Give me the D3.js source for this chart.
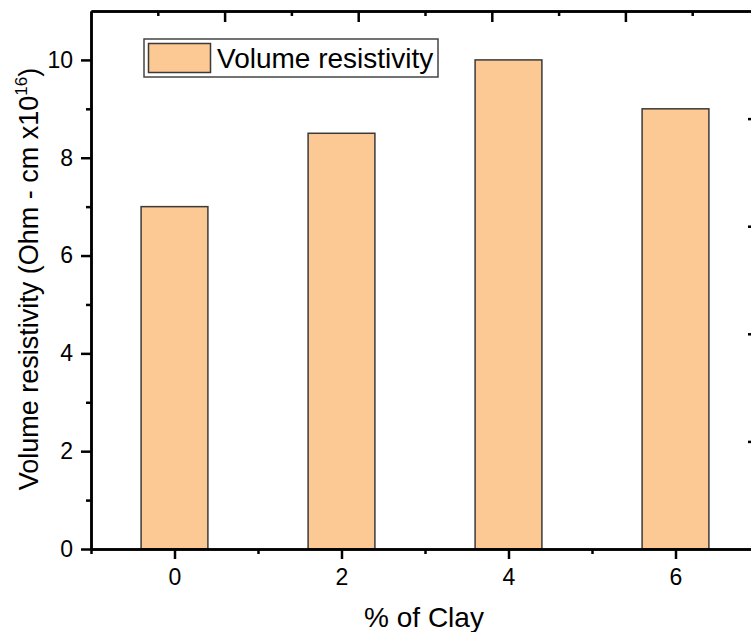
<!DOCTYPE html>
<html><head><meta charset="utf-8">
<script src="https://cdn.jsdelivr.net/npm/d3@7"></script>
<style>body{margin:0;background:#fff}svg{display:block}text{font-family:"Liberation Sans",Arial,sans-serif;fill:#000}</style>
</head><body>
<script>
const categories = [0, 2, 4, 6];
const values = [7, 8.5, 10, 9];
const seriesName = "Volume resistivity";
const yTicks = [0, 2, 4, 6, 8, 10];
const xTitle = "% of Clay";

const W = 751, H = 632;
const L = 91, R = 759, T = 11, B = 549;
const svg = d3.select("body").append("svg").attr("width", W).attr("height", H);

const x = d3.scaleLinear().domain([-1, 7]).range([L, R]);
const y = d3.scaleLinear().domain([0, 11]).range([B, T]);
const xTop = d3.scaleLinear().domain([0, 5]).range([L, R]);
const yRight = d3.scaleLinear().domain([0, 5]).range([B, T]);

// bars
svg.selectAll("rect.bar").data(categories).enter().append("rect")
  .attr("class", "bar")
  .attr("x", d => x(d - 0.4))
  .attr("width", x(0.8) - x(0))
  .attr("y", (d, i) => y(values[i]))
  .attr("height", (d, i) => y(0) - y(values[i]))
  .attr("fill", "#FCC894").attr("stroke", "#3a3a3a").attr("stroke-width", 1.5);

function styleAxis(g) {
  g.selectAll("path").attr("stroke", "#000").attr("stroke-width", 2.5);
  g.selectAll("line").attr("stroke", "#000").attr("stroke-width", 2.5);
  g.selectAll("text").style("font-size", "23px").style("font-family", '"Liberation Sans",Arial,sans-serif');
}

// bottom axis: minor ticks
const gxm = svg.append("g").attr("transform", `translate(0,${B})`)
  .call(d3.axisBottom(x).tickValues([-1, 1, 3, 5]).tickSize(5).tickFormat("").tickSizeOuter(0));
styleAxis(gxm);
const gx = svg.append("g").attr("transform", `translate(0,${B})`)
  .call(d3.axisBottom(x).tickValues(categories).tickSize(10).tickPadding(10).tickSizeOuter(0));
styleAxis(gx);

// left axis
const gym = svg.append("g").attr("transform", `translate(${L},0)`)
  .call(d3.axisLeft(y).tickValues([1, 3, 5, 7, 9]).tickSize(5).tickFormat("").tickSizeOuter(0));
styleAxis(gym);
const gy = svg.append("g").attr("transform", `translate(${L},0)`)
  .call(d3.axisLeft(y).tickValues(yTicks).tickSize(10).tickPadding(8).tickSizeOuter(0));
styleAxis(gy);

// top axis (inward ticks, no labels)
const gtm = svg.append("g").attr("transform", `translate(0,${T})`)
  .call(d3.axisBottom(xTop).tickValues([0.5, 1.5, 2.5, 3.5, 4.5]).tickSize(5).tickFormat("").tickSizeOuter(0));
styleAxis(gtm);
const gt = svg.append("g").attr("transform", `translate(0,${T})`)
  .call(d3.axisBottom(xTop).tickValues([1, 2, 3, 4]).tickSize(11).tickFormat("").tickSizeOuter(0));
styleAxis(gt);

// right axis (inward ticks, no labels)
const gr = svg.append("g").attr("transform", `translate(${R},0)`)
  .call(d3.axisLeft(yRight).tickValues([1, 2, 3, 4]).tickSize(11).tickFormat("").tickSizeOuter(0));
styleAxis(gr);
const grm = svg.append("g").attr("transform", `translate(${R},0)`)
  .call(d3.axisLeft(yRight).tickValues([0.5, 1.5, 2.5, 3.5, 4.5]).tickSize(5).tickFormat("").tickSizeOuter(0));
styleAxis(grm);

// legend
const lg = svg.append("g");
lg.append("rect").attr("x", 144).attr("y", 39).attr("width", 294).attr("height", 38)
  .attr("fill", "#fff").attr("stroke", "#444").attr("stroke-width", 1.5);
lg.append("rect").attr("x", 148.5).attr("y", 43.5).attr("width", 62).attr("height", 29)
  .attr("fill", "#FCC894").attr("stroke", "#3a3a3a").attr("stroke-width", 1.5);
lg.append("text").attr("x", 217).attr("y", 68).style("font-size", "28px").text(seriesName);

// axis titles
svg.append("text").attr("x", 424).attr("y", 627).attr("text-anchor", "middle")
  .style("font-size", "28px").text(xTitle);

const yt = svg.append("text").attr("transform", `translate(38,279) rotate(-90)`)
  .attr("text-anchor", "middle").style("font-size", "27px");
yt.append("tspan").text("Volume resistivity (Ohm - cm x10");
yt.append("tspan").attr("dy", -11).style("font-size", "17px").text("16");
yt.append("tspan").attr("dy", 11).text(")");
</script>
</body></html>
